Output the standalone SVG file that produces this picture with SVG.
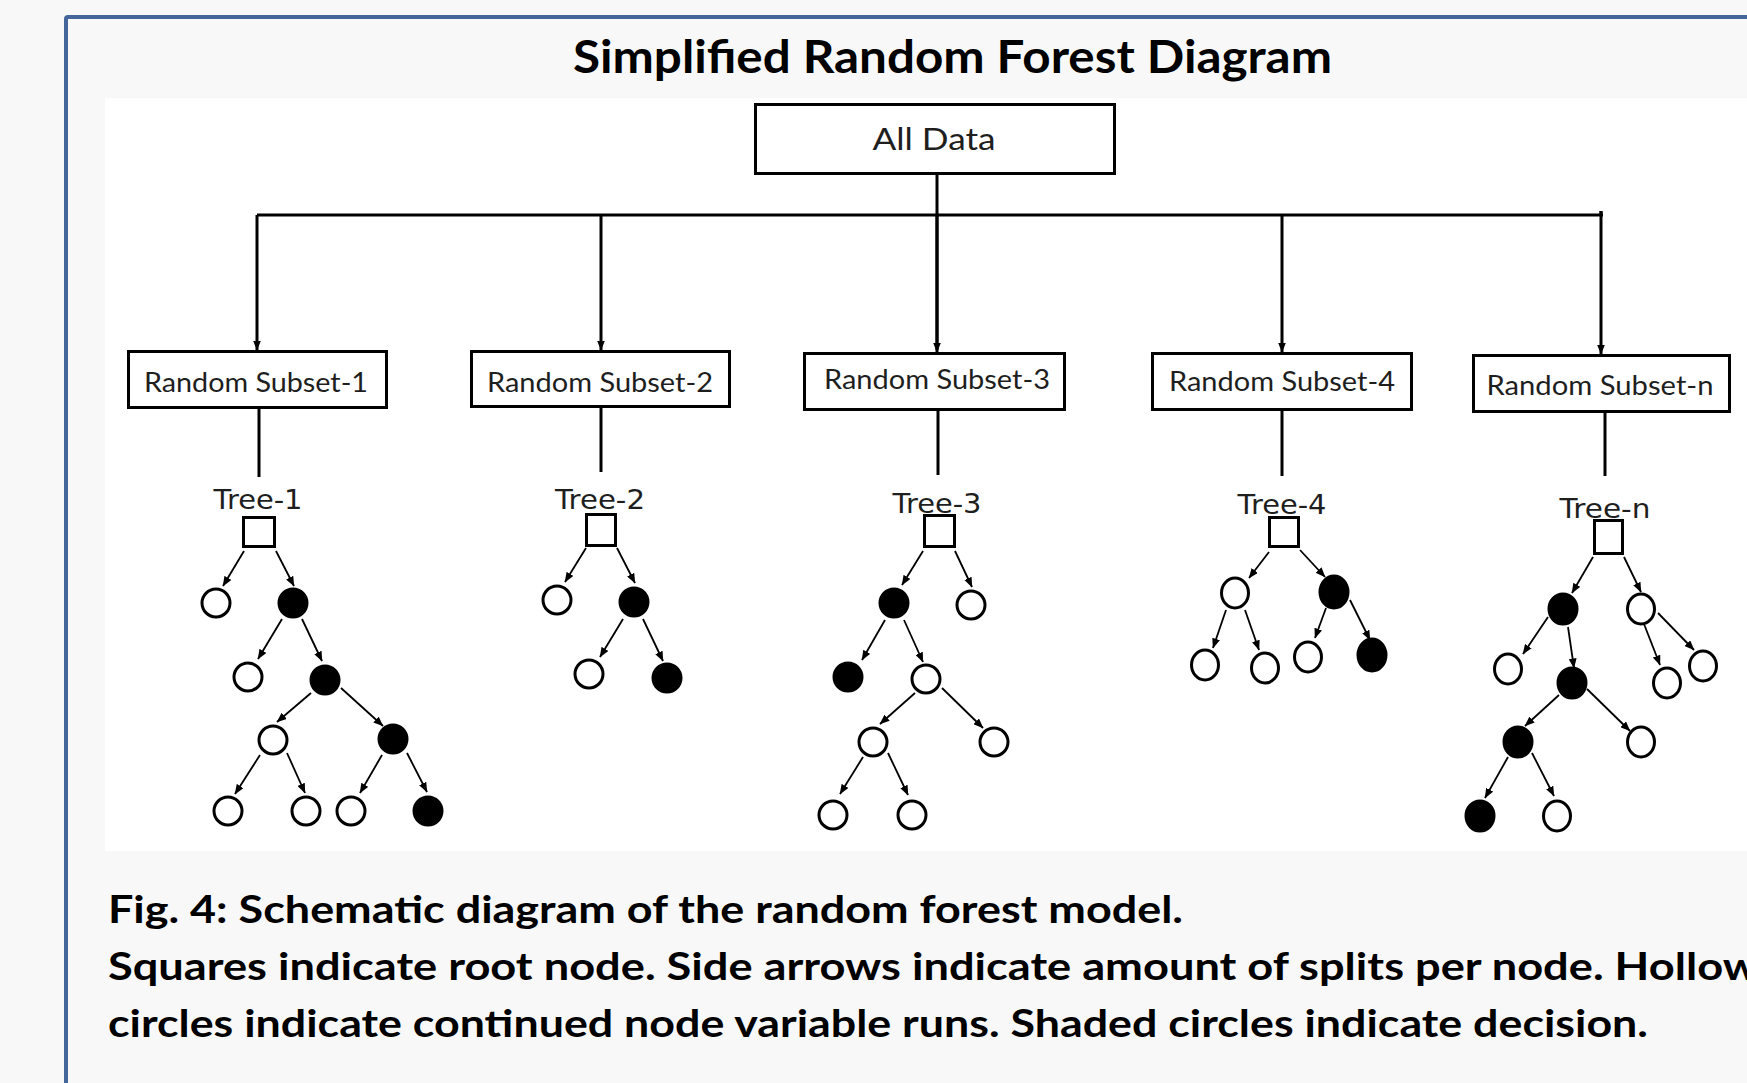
<svg xmlns="http://www.w3.org/2000/svg" width="1747" height="1083" viewBox="0 0 1747 1083">
<style>
.box{fill:#fff;stroke:#000;stroke-width:3}
.lbl{font-family:Lato,"Open Sans","Liberation Sans",sans-serif;font-size:27px;fill:#1e1e1e;text-anchor:middle}
.tl{font-family:"DejaVu Sans","Liberation Sans",sans-serif;font-size:27px;fill:#1e1e1e;text-anchor:middle}
.main{fill:none;stroke:#000;stroke-width:3}
.edge{fill:none;stroke:#000;stroke-width:1.8}
.h{fill:#fff;stroke:#000;stroke-width:3}
.f{fill:#000;stroke:#000;stroke-width:3}
.sq{fill:#fff;stroke:#000;stroke-width:3}
.cap{font-family:Lato,"Open Sans","Liberation Sans",sans-serif;font-weight:bold;font-size:38px;fill:#000}
</style>
<defs>
<marker id="ah" markerUnits="userSpaceOnUse" markerWidth="10" markerHeight="8" refX="9.5" refY="4" orient="auto">
<path d="M0,0 L10,4 L0,8 z" fill="#000"/>
</marker>
</defs>
<rect x="0" y="0" width="1747" height="1083" fill="#f8f8f8"/>
<path d="M66,1083 V19 Q66,17 68,17 H1747" fill="none" stroke="#44669a" stroke-width="4"/>
<rect x="105" y="98" width="1642" height="753" fill="#fff"/>
<text x="573" y="73" font-family="Lato,'Open Sans','Liberation Sans',sans-serif" font-weight="bold" font-size="46" textLength="759" lengthAdjust="spacingAndGlyphs">Simplified Random Forest Diagram</text>

<g id="connectors">
<path class="main" d="M937,175 V350"/>
<path class="main" d="M257,215 H1603"/>
<path class="main" d="M1601,211 V215"/>
<line class="main" x1="257" y1="215" x2="257" y2="350" marker-end="url(#ah)"/>
<line class="main" x1="601" y1="215" x2="601" y2="350" marker-end="url(#ah)"/>
<line class="main" x1="937" y1="215" x2="937" y2="352" marker-end="url(#ah)"/>
<line class="main" x1="1282" y1="215" x2="1282" y2="352" marker-end="url(#ah)"/>
<line class="main" x1="1601" y1="211" x2="1601" y2="354" marker-end="url(#ah)"/>
<path class="main" d="M259,409 V477"/>
<path class="main" d="M601,408 V472"/>
<path class="main" d="M938,411 V475"/>
<path class="main" d="M1282,411 V476"/>
<path class="main" d="M1605,413 V476"/>
<g marker-end="url(#ah)">
<line class="edge" x1="244" y1="551" x2="223" y2="586"/>
<line class="edge" x1="276" y1="551" x2="294" y2="586"/>
<line class="edge" x1="282" y1="619" x2="258" y2="659"/>
<line class="edge" x1="302" y1="619" x2="322" y2="661"/>
<line class="edge" x1="311" y1="693" x2="277" y2="722"/>
<line class="edge" x1="341" y1="688" x2="383" y2="726"/>
<line class="edge" x1="260" y1="755" x2="235" y2="794"/>
<line class="edge" x1="287" y1="753" x2="305" y2="793"/>
<line class="edge" x1="382" y1="755" x2="360" y2="793"/>
<line class="edge" x1="407" y1="753" x2="427" y2="792"/>
<line class="edge" x1="586" y1="548" x2="565" y2="582"/>
<line class="edge" x1="617" y1="548" x2="635" y2="583"/>
<line class="edge" x1="623" y1="619" x2="600" y2="657"/>
<line class="edge" x1="643" y1="619" x2="663" y2="661"/>
<line class="edge" x1="923" y1="551" x2="902" y2="585"/>
<line class="edge" x1="955" y1="551" x2="972" y2="587"/>
<line class="edge" x1="885" y1="620" x2="862" y2="660"/>
<line class="edge" x1="904" y1="620" x2="923" y2="662"/>
<line class="edge" x1="915" y1="693" x2="880" y2="724"/>
<line class="edge" x1="942" y1="688" x2="983" y2="728"/>
<line class="edge" x1="863" y1="757" x2="840" y2="794"/>
<line class="edge" x1="888" y1="753" x2="908" y2="795"/>
<line class="edge" x1="1269" y1="552" x2="1249" y2="578"/>
<line class="edge" x1="1300" y1="550" x2="1325" y2="577"/>
<line class="edge" x1="1226" y1="610" x2="1213" y2="648"/>
<line class="edge" x1="1245" y1="610" x2="1259" y2="650"/>
<line class="edge" x1="1326" y1="608" x2="1315" y2="638"/>
<line class="edge" x1="1350" y1="600" x2="1370" y2="640"/>
<line class="edge" x1="1593" y1="557" x2="1572" y2="593"/>
<line class="edge" x1="1624" y1="557" x2="1641" y2="592"/>
<line class="edge" x1="1548" y1="617" x2="1523" y2="654"/>
<line class="edge" x1="1568" y1="627" x2="1574" y2="668"/>
<line class="edge" x1="1644" y1="624" x2="1660" y2="665"/>
<line class="edge" x1="1658" y1="613" x2="1694" y2="650"/>
<line class="edge" x1="1559" y1="695" x2="1525" y2="726"/>
<line class="edge" x1="1587" y1="689" x2="1630" y2="731"/>
<line class="edge" x1="1508" y1="757" x2="1485" y2="798"/>
<line class="edge" x1="1532" y1="753" x2="1554" y2="796"/>
</g>
</g>

<g id="all-data">
<rect class="box" x="755.5" y="104.5" width="359" height="69"/>
<text x="934" y="150" font-family="Lato,'Open Sans','Liberation Sans',sans-serif" font-size="31" fill="#1e1e1e" text-anchor="middle" textLength="123" lengthAdjust="spacingAndGlyphs">All Data</text>
</g>
<g id="subset-1">
<rect class="box" x="128.5" y="351.5" width="258" height="56"/>
<text class="lbl" x="256" y="392" textLength="224" lengthAdjust="spacingAndGlyphs">Random Subset-1</text>
</g>
<g id="subset-2">
<rect class="box" x="471.5" y="351.5" width="258" height="55"/>
<text class="lbl" x="600" y="392" textLength="226" lengthAdjust="spacingAndGlyphs">Random Subset-2</text>
</g>
<g id="subset-3">
<rect class="box" x="804.5" y="353.5" width="260" height="56"/>
<text class="lbl" x="937" y="389" textLength="226" lengthAdjust="spacingAndGlyphs">Random Subset-3</text>
</g>
<g id="subset-4">
<rect class="box" x="1152.5" y="353.5" width="259" height="56"/>
<text class="lbl" x="1282" y="391" textLength="226" lengthAdjust="spacingAndGlyphs">Random Subset-4</text>
</g>
<g id="subset-n">
<rect class="box" x="1473.5" y="355.5" width="256" height="56"/>
<text class="lbl" x="1600" y="395" textLength="227" lengthAdjust="spacingAndGlyphs">Random Subset-n</text>
</g>

<g id="tree-1">
<text class="tl" x="258" y="509" textLength="89" lengthAdjust="spacingAndGlyphs">Tree-1</text>
<rect class="sq" x="243.5" y="517.5" width="31" height="29"/>
<circle class="h" cx="216" cy="603" r="14"/>
<circle class="f" cx="293" cy="603" r="14"/>
<circle class="h" cx="248" cy="677" r="14"/>
<circle class="f" cx="325" cy="680" r="14"/>
<circle class="h" cx="273" cy="740" r="14"/>
<circle class="f" cx="393" cy="739" r="14"/>
<circle class="h" cx="228" cy="811" r="14"/>
<circle class="h" cx="306" cy="811" r="14"/>
<circle class="h" cx="351" cy="811" r="14"/>
<circle class="f" cx="428" cy="811" r="14"/>
</g>
<g id="tree-2">
<text class="tl" x="600" y="509" textLength="90" lengthAdjust="spacingAndGlyphs">Tree-2</text>
<rect class="sq" x="586.5" y="514.5" width="29" height="31"/>
<circle class="h" cx="557" cy="600" r="14"/>
<circle class="f" cx="634" cy="602" r="14"/>
<circle class="h" cx="589" cy="674" r="14"/>
<circle class="f" cx="667" cy="678" r="14"/>
</g>
<g id="tree-3">
<text class="tl" x="937" y="513" textLength="89" lengthAdjust="spacingAndGlyphs">Tree-3</text>
<rect class="sq" x="924.5" y="515.5" width="30" height="31"/>
<circle class="f" cx="894" cy="603" r="14"/>
<circle class="h" cx="971" cy="605" r="14"/>
<circle class="f" cx="848" cy="677" r="14"/>
<circle class="h" cx="926" cy="679" r="14"/>
<circle class="h" cx="873" cy="742" r="14"/>
<circle class="h" cx="994" cy="742" r="14"/>
<circle class="h" cx="833" cy="815" r="14"/>
<circle class="h" cx="912" cy="815" r="14"/>
</g>
<g id="tree-4">
<text class="tl" x="1282" y="514" textLength="89" lengthAdjust="spacingAndGlyphs">Tree-4</text>
<rect class="sq" x="1269.5" y="517.5" width="29" height="29"/>
<ellipse class="h" cx="1235" cy="593" rx="13.5" ry="15"/>
<ellipse class="f" cx="1334" cy="592" rx="14" ry="16"/>
<ellipse class="h" cx="1205" cy="665" rx="13.5" ry="15"/>
<ellipse class="h" cx="1265" cy="668" rx="13.5" ry="15"/>
<ellipse class="h" cx="1308" cy="657" rx="13.5" ry="15"/>
<ellipse class="f" cx="1372" cy="655" rx="14" ry="16"/>
</g>
<g id="tree-n">
<text class="tl" x="1605" y="518" textLength="91" lengthAdjust="spacingAndGlyphs">Tree-n</text>
<rect class="sq" x="1594.5" y="520.5" width="28" height="33"/>
<ellipse class="f" cx="1563" cy="609" rx="14" ry="15"/>
<ellipse class="h" cx="1641" cy="609" rx="13.5" ry="15"/>
<ellipse class="h" cx="1508" cy="669" rx="13.5" ry="15"/>
<ellipse class="f" cx="1572" cy="683" rx="14" ry="15"/>
<ellipse class="h" cx="1667" cy="683" rx="13.5" ry="15"/>
<ellipse class="h" cx="1703" cy="666" rx="13.5" ry="15"/>
<ellipse class="f" cx="1518" cy="742" rx="14" ry="15"/>
<ellipse class="h" cx="1641" cy="742" rx="13.5" ry="15"/>
<ellipse class="f" cx="1480" cy="816" rx="14" ry="15"/>
<ellipse class="h" cx="1557" cy="816" rx="13.5" ry="15"/>
</g>

<g id="caption">
<text class="cap" x="108" y="923" textLength="1075" lengthAdjust="spacingAndGlyphs">Fig. 4: Schematic diagram of the random forest model.</text>
<text class="cap" x="108" y="980" textLength="1651" lengthAdjust="spacingAndGlyphs">Squares indicate root node. Side arrows indicate amount of splits per node. Hollow</text>
<text class="cap" x="108" y="1037" textLength="1540" lengthAdjust="spacingAndGlyphs">circles indicate continued node variable runs. Shaded circles indicate decision.</text>
</g>
</svg>
